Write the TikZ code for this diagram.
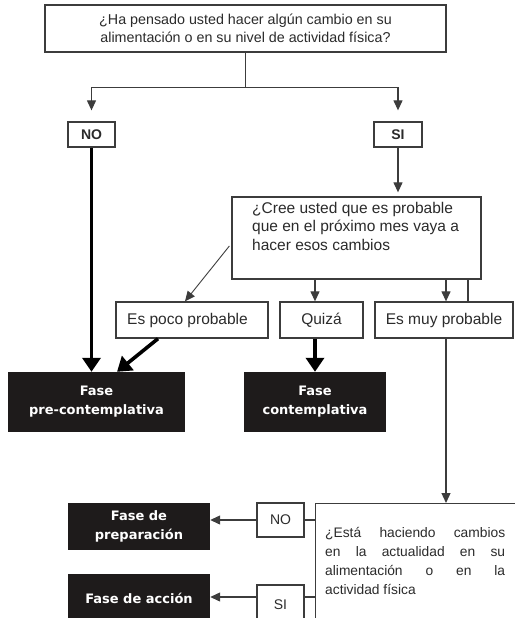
\documentclass[tikz,border=0pt]{standalone}
\usepackage{fontspec}
\setmainfont{Liberation Sans}
\newfontfamily\phasefont{DejaVu Sans}
\usetikzlibrary{arrows.meta,calc}

\definecolor{inkc}{HTML}{2B2B2B}
\definecolor{linec}{HTML}{3C3C3C}
\definecolor{phasec}{HTML}{1E1B1B}

\tikzset{
  box/.style={draw=linec, line width=1.3pt, fill=white, inner sep=0pt,
    text=inkc, font=\fontsize{15.5}{18.5}\selectfont},
  yesno/.style={box, font=\bfseries\fontsize{14}{16}\selectfont},
  phase/.style={fill=phasec, inner sep=0pt, text=white, align=center,
    font=\phasefont\bfseries\fontsize{13}{19}\selectfont},
  conn/.style={draw=linec, line width=1.2pt},
  arr/.style={conn, -{Triangle[length=10pt,width=9pt]}},
  bigarr/.style={draw=black, line width=3.6pt, -{Triangle[length=14pt,width=18pt]}},
  qtext/.style={inner sep=0pt, text=inkc, anchor=north west},
}

\begin{document}
\begin{tikzpicture}[x=1pt,y=-1pt]
\useasboundingbox (0,0) rectangle (514,618);

% first question and its two answers
\node[box, minimum width=401pt, minimum height=47pt, align=center,
  font=\fontsize{14.3}{17.5}\selectfont] (q1) at (245.5,28.5)
  {¿Ha pensado usted hacer algún cambio en su\\alimentación o en su nivel de actividad física?};
\node[yesno, minimum width=47pt, minimum height=25pt] (no1) at (91.5,134.5) {NO};
\node[yesno, minimum width=48pt, minimum height=25pt] (si1) at (398,134.5) {SI};

% second question
\node[box, minimum width=249pt, minimum height=82pt] (q2) at (356.5,238) {};
\node[qtext, align=left, font=\fontsize{15.5}{18.5}\selectfont] (q2t) at (252,202)
  {¿Cree usted que es probable\\que en el próximo mes vaya a\\hacer esos cambios};

% answers to the second question
\node[box, minimum width=152pt, minimum height=36pt] (poco) at (192,320) {\hspace*{-9pt}Es poco probable};
\node[box, minimum width=83pt, minimum height=36pt] (quiza) at (321.5,320) {Quizá};
\node[box, minimum width=138pt, minimum height=36pt] (muy) at (444,320) {Es muy probable};

% stages
\node[phase, minimum width=177pt, minimum height=60pt] (pre) at (96.5,402) {Fase\\pre-contemplativa};
\node[phase, minimum width=142pt, minimum height=60pt] (cont) at (315,402) {Fase\\contemplativa};

% third question
\node[box, anchor=north west, minimum width=215pt, minimum height=140pt] (q3) at (315,503) {};
\node[qtext, text width=180pt, align=justify, font=\fontsize{13.8}{19}\selectfont] (q3t) at (325,527)
  {¿Está haciendo cambios\linebreak en la actualidad en su\linebreak alimentación o en la\linebreak actividad física};

\node[box, minimum width=47pt, minimum height=34pt, font=\fontsize{14}{16}\selectfont] (no2) at (280.5,520) {NO};
\node[box, minimum width=47pt, minimum height=40pt, font=\fontsize{14}{16}\selectfont] (si2) at (280.5,605) {SI};

\node[phase, minimum width=142pt, minimum height=47pt] (prep) at (139,526.5) {Fase de\\preparación};
\node[phase, minimum width=142pt, minimum height=48pt] (acc) at (139,598) {Fase de acción};

% connectors from the first question
\draw[conn] (q1.south) -- ++(0,35) coordinate (split);
\draw[arr, shorten >=11pt] (split) -| (no1.north);
\draw[arr, shorten >=11pt] (split) -| (si1.north);
\draw[arr, shorten >=4pt] (si1.south) -- (si1.south |- q2.north);

% connectors from the second question
\draw[arr, line width=0.9pt] ($(q2.west)+(-2,8)$) -- ($(poco.north)+(-7,0)$);
\draw[arr] (cont.north |- q2.south) -- (cont.north |- quiza.north);
\coordinate (mx) at ($(muy.north)+(2,0)$);
\coordinate (my) at ($(muy.north)+(24,0)$);
\draw[arr] (mx |- q2.south) -- (mx);
\draw[conn] (my |- q2.south) -- (my);
\draw[arr] (mx |- muy.south) -- (mx |- q3.north);

% heavy arrows into the stages
\draw[bigarr] (no1.south) -- (no1.south |- pre.north);
\draw[bigarr] ($(poco.south)+(-34,0)$) -- ($(pre.north)+(20.5,0)$);
\draw[bigarr] (cont.north |- quiza.south) -- (cont.north);

% connectors from the third question
\draw[conn] (q3.west |- no2.east) -- (no2.east);
\draw[arr] (no2.west) -- (no2.west -| prep.east);
\coordinate (sy) at (0,597);
\draw[conn] (q3.west |- sy) -- (si2.east |- sy);
\draw[arr] (si2.west |- sy) -- (acc.east |- sy);
\end{tikzpicture}
\end{document}
